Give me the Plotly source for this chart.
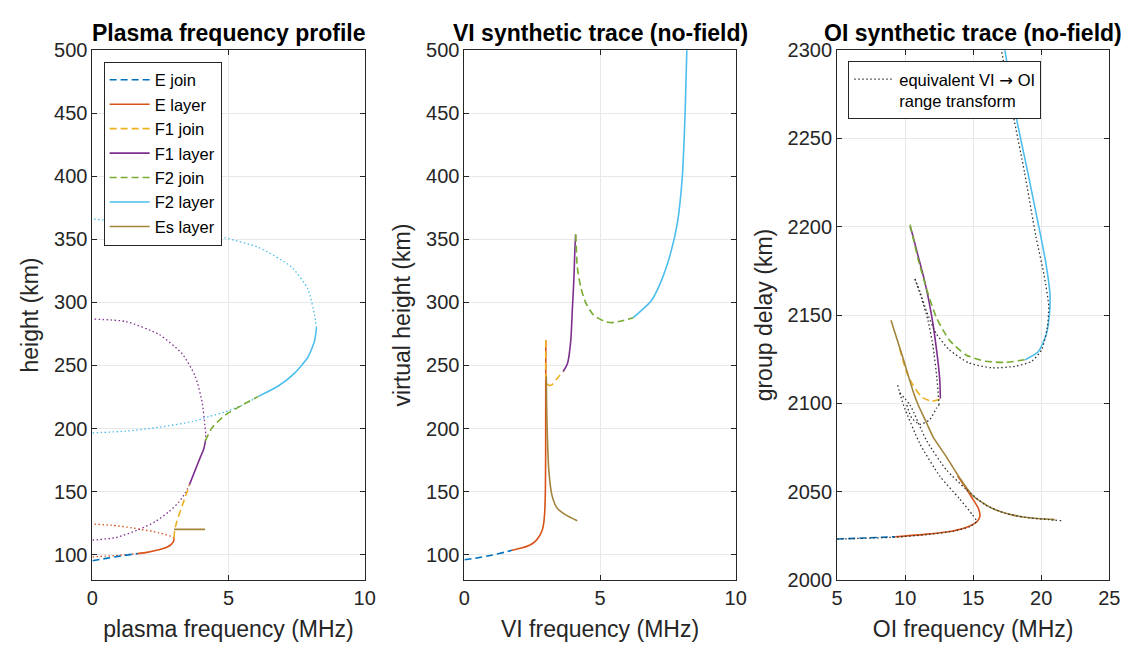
import plotly.graph_objects as go

# ---------------- Panel 1: plasma frequency profile (MHz, km) ----------------
pf_ejoin_f = [0, 0.5, 1.0, 1.66]
pf_ejoin_h = [95.2, 97.0, 98.8, 100.8]
pf_e_f = [1.66, 2.0, 2.32, 2.6, 2.75, 2.88, 2.95, 2.99, 3.0]
pf_e_h = [100.8, 101.8, 103.2, 104.8, 106.0, 107.8, 109.5, 111.2, 113.0]
pf_e_lo_f = [0, 0.8, 1.66]
pf_e_lo_h = [98.2, 99.2, 100.8]
pf_e_up_f = [3.0, 2.95, 2.45, 1.47, 0.7, 0]
pf_e_up_h = [113.0, 114.0, 117.3, 121.2, 123.3, 124.2]
pf_f1join_f = [3.0, 3.02, 3.1, 3.3, 3.45, 3.57]
pf_f1join_h = [113.0, 119.0, 126.0, 139.0, 148.0, 155.7]
pf_f1_f = [3.57, 3.78, 3.97, 4.09, 4.15]
pf_f1_h = [155.7, 167.2, 177.5, 183.8, 190.0]
pf_f1_lo_f = [0, 0.86, 1.72, 2.32, 2.81, 3.18, 3.42, 3.57]
pf_f1_lo_h = [111.5, 113.5, 120.0, 126.3, 134.0, 141.7, 149.3, 155.7]
pf_f1_up_f = [4.15, 4.16, 4.13, 4.03, 3.78, 3.30, 2.45, 1.23, 0]
pf_f1_up_h = [190.0, 196.0, 203.0, 220.9, 241.3, 259.2, 274.6, 284.8, 286.8]
pf_f2join_f = [4.15, 4.39, 4.88, 5.49, 6.1]
pf_f2join_h = [190.2, 200.5, 210.7, 218.4, 225.5]
pf_f2_f = [6.1, 6.83, 7.43, 7.92, 8.16, 8.23]
pf_f2_h = [225.5, 233.7, 243.9, 256.7, 269.5, 279.7]
pf_f2_up_f = [8.23, 8.16, 7.92, 7.31, 6.1, 4.88, 3.66, 1.23, 0]
pf_f2_up_h = [279.7, 290.0, 310.4, 328.2, 343.6, 351.2, 357.7, 364.0, 366.1]
pf_f2_lo_f = [0, 1.23, 2.45, 3.66, 4.27, 4.88, 5.49, 6.1]
pf_f2_lo_h = [196.6, 197.9, 201.0, 205.5, 209.4, 213.2, 218.4, 225.5]
pf_es_f = [3.0, 4.14]
pf_es_h = [120.0, 120.0]

# ---------------- Panel 2: VI synthetic trace (MHz, virtual height km) ----------------
vi_ejoin_f = [0, 0.5, 1.0, 1.5, 1.75]
vi_ejoin_h = [96.0, 97.5, 99.5, 102.0, 103.5]
vi_e_f = [1.75, 2.1, 2.4, 2.6, 2.76, 2.87, 2.94, 2.98, 2.995, 3.0]
vi_e_h = [103.5, 105.2, 107.5, 110.3, 114.6, 119.5, 128.0, 145.0, 180.0, 270.0]
vi_f1join_f = [3.0, 3.0, 3.03, 3.13, 3.25, 3.43, 3.64]
vi_f1join_h = [270.0, 245.0, 236.2, 234.2, 235.0, 240.0, 245.2]
vi_f1_f = [3.64, 3.8, 3.92, 3.98, 4.04, 4.07, 4.1]
vi_f1_h = [245.2, 251.6, 269.5, 295.0, 320.6, 341.0, 353.8]
vi_f2join_f = [4.1, 4.12, 4.16, 4.28, 4.46, 4.76, 5.19, 5.43, 5.79, 6.22]
vi_f2join_h = [353.8, 346.2, 328.2, 312.9, 300.2, 290.0, 284.8, 284.0, 285.3, 287.9]
vi_f2_f = [6.22, 6.89, 7.25, 7.61, 7.85, 8.03, 8.1, 8.15, 8.2]
vi_f2_h = [287.9, 301.4, 316.7, 339.7, 362.8, 398.6, 429.2, 460.0, 500.8]
vi_es_f = [4.16, 3.73, 3.43, 3.23, 3.11, 3.06, 3.03, 3.02]
vi_es_h = [126.8, 131.5, 136.5, 146.8, 167.2, 192.8, 218.3, 241.3]

# ---------------- Panel 3: OI synthetic trace (MHz, group delay km) ----------------
oi_ejoin_f = [5, 7, 9.28]
oi_ejoin_d = [2023.1, 2023.7, 2024.4]
oi_e_f = [9.28, 11.57, 13.5, 14.71, 15.31, 15.49, 15.38, 14.95, 14.35, 13.86]
oi_e_d = [2024.4, 2025.9, 2027.7, 2030.4, 2033.2, 2035.9, 2040.5, 2046.0, 2053.3, 2058.8]
oi_f1join_f = [9.6, 10.12, 10.6, 11.21, 11.93, 12.54]
oi_f1join_d = [2131.0, 2117.3, 2110.0, 2103.6, 2101.2, 2102.3]
oi_f1_f = [12.59, 12.54, 12.34, 11.93, 11.45, 10.96, 10.49, 10.36]
oi_f1_d = [2102.7, 2113.7, 2128.3, 2150.3, 2168.6, 2183.2, 2197.0, 2200.0]
oi_f2join_f = [10.36, 10.96, 11.57, 12.3, 13.26, 14.47, 15.92, 17.37, 18.82]
oi_f2join_d = [2201.2, 2181.4, 2164.9, 2148.5, 2135.7, 2127.4, 2123.8, 2123.2, 2124.7]
oi_f2_f = [18.82, 19.78, 20.38, 20.62, 20.64, 20.33, 19.73, 19.01, 18.17, 17.33]
oi_f2_d = [2124.7, 2129.2, 2139.3, 2152.0, 2162.0, 2180.0, 2203.6, 2230.9, 2261.8, 2300.0]
oi_es_f = [8.96, 9.88, 10.6, 10.96, 11.57, 12.05, 13.02, 13.99, 14.95, 16.4, 17.85, 19.3, 21.0]
oi_es_d = [2147.0, 2124.7, 2106.4, 2099.0, 2089.0, 2081.0, 2069.8, 2057.9, 2047.8, 2040.5, 2036.8, 2035.0, 2034.1]

# equivalent VI -> OI range transform (segments)
eq_a_f = [5, 9.28, 11.57, 13.5, 14.71, 15.25, 14.95, 13.99, 12.54, 11.09, 9.88, 9.44]
eq_a_d = [2023.1, 2024.2, 2025.6, 2027.5, 2030.0, 2033.2, 2036.8, 2046.0, 2058.8, 2077.0, 2099.0, 2110.4]
eq_b_f = [9.6, 10.36, 11.57, 13.02, 14.47, 15.92, 17.37, 18.82, 20.51, 21.47]
eq_b_d = [2106.0, 2099.0, 2078.9, 2062.4, 2051.4, 2042.3, 2037.7, 2035.4, 2034.1, 2033.5]
eq_c_f = [10.12, 10.48, 11.09, 11.81, 12.3, 12.49]
eq_c_d = [2099.0, 2091.7, 2088.1, 2090.8, 2097.2, 2099.0]
eq_d_f = [12.49, 12.34, 12.05, 11.69, 11.21, 10.72]
eq_d_d = [2099.0, 2113.7, 2132.0, 2146.6, 2159.4, 2170.4]
eq_e_f = [10.72, 11.09, 11.57, 12.3, 13.26, 14.71, 16.4, 18.09, 19.3, 20.02, 20.45, 20.55, 20.21, 19.61, 18.77, 17.93, 17.08]
eq_e_d = [2170.4, 2163.1, 2152.1, 2139.3, 2130.2, 2122.8, 2120.1, 2121.0, 2123.8, 2130.2, 2143.0, 2155.0, 2172.6, 2194.5, 2230.9, 2263.7, 2300.0]

# ---------------- styling ----------------
C_EJ = "#0072BD"
C_E = "#D95319"
C_F1J = "#EDB120"
C_F1 = "#7E2F8E"
C_F2J = "#77AC30"
C_F2 = "#4DBEEE"
C_ES = "#A2843A"
DASH = "7px,4px"
DOT = "1.5px,2.5px"
LW = 1.6
FONT = "Liberation Sans, Arial, Helvetica, sans-serif"
AX = "#262626"

fig = go.Figure()


def add(x, y, color, dash="solid", xa="x", ya="y", name=None, legend=None, width=LW):
    fig.add_trace(go.Scatter(
        x=x, y=y, mode="lines", xaxis=xa, yaxis=ya,
        line=dict(color=color, dash=dash, width=width, shape="spline", smoothing=0.6),
        name=name, showlegend=name is not None, legend=legend or "legend",
        hoverinfo="skip"))


# Panel 1 dotted extensions (behind)
for xs, ys, c in [(pf_e_lo_f, pf_e_lo_h, C_E), (pf_e_up_f, pf_e_up_h, C_E),
                  (pf_f1_lo_f, pf_f1_lo_h, C_F1), (pf_f1_up_f, pf_f1_up_h, C_F1),
                  (pf_f2_lo_f, pf_f2_lo_h, C_F2), (pf_f2_up_f, pf_f2_up_h, C_F2)]:
    add(xs, ys, c, DOT, width=1.3)

add(pf_ejoin_f, pf_ejoin_h, C_EJ, DASH, name="E join")
add(pf_e_f, pf_e_h, C_E, name="E layer")
add(pf_f1join_f, pf_f1join_h, C_F1J, DASH, name="F1 join")
add(pf_f1_f, pf_f1_h, C_F1, name="F1 layer")
add(pf_f2join_f, pf_f2join_h, C_F2J, DASH, name="F2 join")
add(pf_f2_f, pf_f2_h, C_F2, name="F2 layer")
add(pf_es_f, pf_es_h, C_ES, name="Es layer")

# Panel 2
add(vi_ejoin_f, vi_ejoin_h, C_EJ, DASH, "x2", "y2")
add(vi_e_f, vi_e_h, C_E, "solid", "x2", "y2")
add(vi_f1join_f, vi_f1join_h, C_F1J, DASH, "x2", "y2")
add(vi_f1_f, vi_f1_h, C_F1, "solid", "x2", "y2")
add(vi_f2join_f, vi_f2join_h, C_F2J, DASH, "x2", "y2")
add(vi_f2_f, vi_f2_h, C_F2, "solid", "x2", "y2")
add(vi_es_f, vi_es_h, C_ES, "solid", "x2", "y2")

# Panel 3
add(oi_ejoin_f, oi_ejoin_d, C_EJ, DASH, "x3", "y3")
add(oi_e_f, oi_e_d, C_E, "solid", "x3", "y3")
add(oi_f1join_f, oi_f1join_d, C_F1J, DASH, "x3", "y3")
add(oi_f1_f, oi_f1_d, C_F1, "solid", "x3", "y3")
add(oi_f2join_f, oi_f2join_d, C_F2J, DASH, "x3", "y3")
add(oi_f2_f, oi_f2_d, C_F2, "solid", "x3", "y3")
add(oi_es_f, oi_es_d, C_ES, "solid", "x3", "y3")

eq_f, eq_d = [], []
for sf, sd in [(eq_a_f, eq_a_d), (eq_b_f, eq_b_d), (eq_c_f, eq_c_d), (eq_d_f, eq_d_d), (eq_e_f, eq_e_d)]:
    eq_f += sf + [None]
    eq_d += sd + [None]
add(eq_f, eq_d, "#333333", DOT, "x3", "y3",
    name="equivalent VI <span style=\"font-family:DejaVu Sans\">\u2192</span> OI<br>range transform",
    legend="legend2", width=1.3)

W, H = 1129, 653
top_px, bot_px = 32.3, 580.4
ydom = [1 - bot_px / H, 1 - top_px / H]
doms = [(79.6, 356.0), (457.3, 732.7), (835.7, 1112.0)]

axis_common = dict(showline=True, linecolor=AX, linewidth=1, mirror="ticks",
                   ticks="inside", ticklen=5, tickcolor=AX, tickwidth=1,
                   showgrid=True, gridcolor="#e8e8e8", gridwidth=1, zeroline=False,
                   tickfont=dict(family=FONT, size=20, color=AX))
title_font = dict(family=FONT, size=23, color=AX)

layout = dict(width=W, height=H, margin=dict(l=0, r=0, t=0, b=0), autosize=False,
              paper_bgcolor="white", plot_bgcolor="white",
              font=dict(family=FONT, color=AX))
xt = ["plasma frequency (MHz)", "VI frequency (MHz)", "OI frequency (MHz)"]
yt = ["height (km)", "virtual height (km)", "group delay (km)"]
xr = [[0, 10], [0, 10], [5, 25]]
yr = [[80, 500], [80, 500], [2000, 2300]]
ytv = [list(range(100, 501, 50)), list(range(100, 501, 50)), list(range(2000, 2301, 50))]
for i in range(3):
    sx = "" if i == 0 else str(i + 1)
    layout["xaxis" + sx] = dict(axis_common, domain=[doms[i][0] / W, doms[i][1] / W],
                                range=xr[i], dtick=5, tick0=0, anchor="y" + sx,
                                title=dict(text=xt[i], font=title_font, standoff=13))
    layout["yaxis" + sx] = dict(axis_common, domain=ydom, range=yr[i], tickvals=ytv[i],
                                anchor="x" + sx,
                                title=dict(text=yt[i], font=title_font, standoff=8))

layout["legend"] = dict(x=91 / W, y=1 - 44 / H, xanchor="left", yanchor="top",
                        bgcolor="white", bordercolor=AX, borderwidth=1,
                        font=dict(family=FONT, size=16.5, color="#000000"),
                        tracegroupgap=0, itemwidth=40)
layout["legend2"] = dict(x=847 / W, y=1 - 43.3 / H, xanchor="left", yanchor="top",
                         bgcolor="white", bordercolor=AX, borderwidth=1, valign="top",
                         font=dict(family=FONT, size=16.5, color="#000000"), itemwidth=40)
fig.update_layout(**layout)

titles = ["Plasma frequency profile", "VI synthetic trace (no-field)", "OI synthetic trace (no-field)"]
for i, t in enumerate(titles):
    fig.add_annotation(text="<b>%s</b>" % t, xref="paper", yref="paper",
                       x=(doms[i][0] + doms[i][1]) / 2 / W, y=1 - 15 / H,
                       xanchor="center", yanchor="middle", showarrow=False,
                       font=dict(family=FONT, size=23, color="#000000"))

fig.write_html("out.html")
